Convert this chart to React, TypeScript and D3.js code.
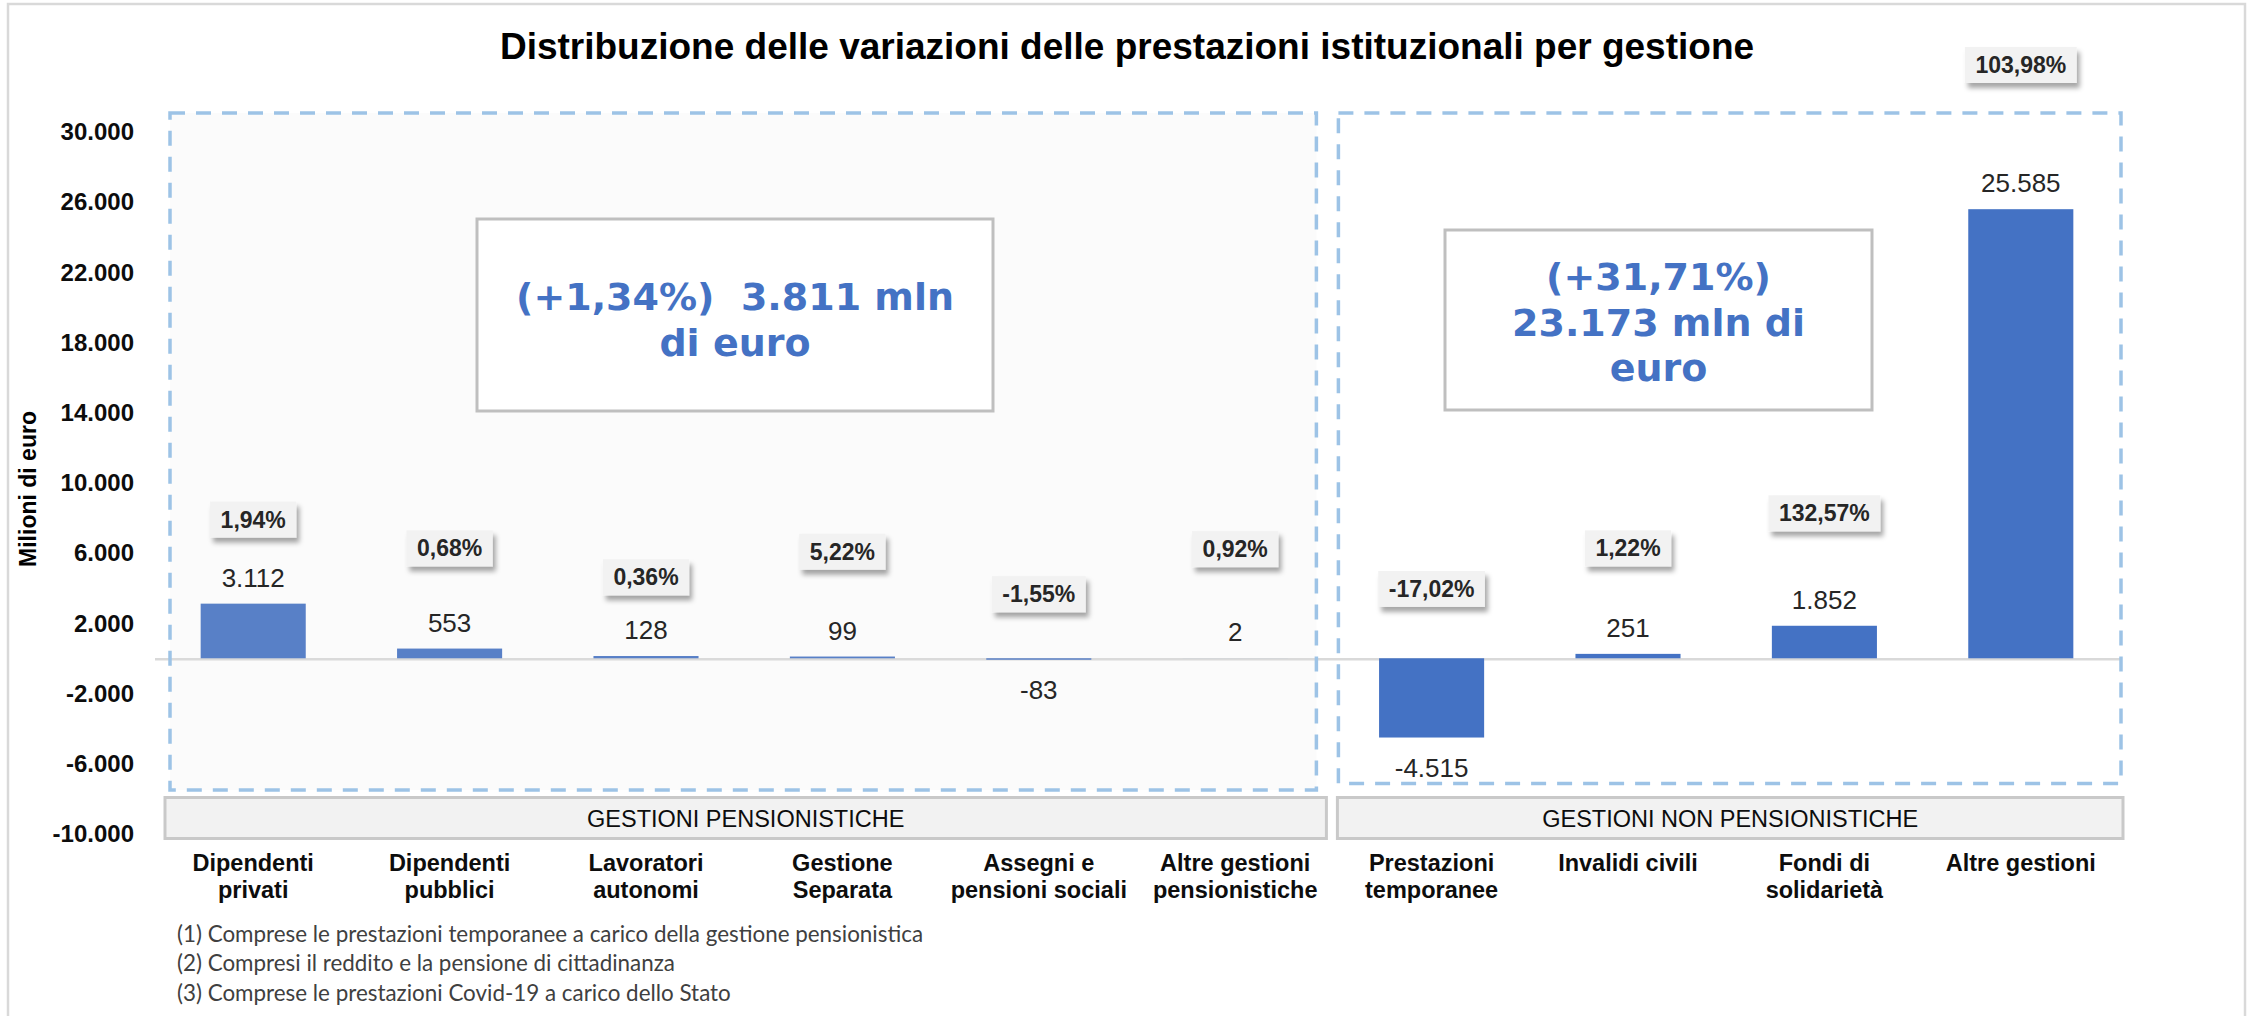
import * as d3 from 'd3';
import { useEffect, useRef } from 'react';

const categories = [
  'Dipendenti\nprivati',
  'Dipendenti\npubblici',
  'Lavoratori\nautonomi',
  'Gestione\nSeparata',
  'Assegni e\npensioni sociali',
  'Altre gestioni\npensionistiche',
  'Prestazioni\ntemporanee',
  'Invalidi civili',
  'Fondi di\nsolidarietà',
  'Altre gestioni',
];

// variazioni in milioni di euro
const values = [3112, 553, 128, 99, -83, 2, -4515, 251, 1852, 25585];

// variazioni percentuali e quota (in mln) a cui stanno le etichette
const percentages = [1.94, 0.68, 0.36, 5.22, -1.55, 0.92, -17.02, 1.22, 132.57, 103.98];
const percentLevels = [7900, 6260, 4610, 6070, 3650, 6220, 3950, 6260, 8260, 33800];

const yTicks = [-10000, -6000, -2000, 2000, 6000, 10000, 14000, 18000, 22000, 26000, 30000];

const groupLabels = ['GESTIONI PENSIONISTICHE', 'GESTIONI NON PENSIONISTICHE'];
const groupSpans = [
  [0, 5],
  [6, 9],
];

const summaryLines = [
  ['(+1,34%)  3.811 mln', 'di euro'],
  ['(+31,71%)', '23.173 mln di', 'euro'],
];

const footnotes = [
  '(1) Comprese le prestazioni temporanee a carico della gestione pensionistica',
  '(2) Compresi il reddito e la pensione di cittadinanza',
  '(3) Comprese le prestazioni Covid-19 a carico dello Stato',
];

const W = 2257;
const H = 1016;
const ARIAL = "'Liberation Sans', Arial, sans-serif";

const it = d3.formatLocale({
  decimal: ',',
  thousands: '.',
  grouping: [3],
  currency: ['', ' €'],
  minus: '-',
});
const fmtInt = it.format(',d');
const fmtPct = it.format('.2f');

const App = () => {
  const ref = useRef<SVGSVGElement>(null);

  useEffect(() => {
    document.body.style.margin = '0';
    const svg = d3.select(ref.current);
    svg.selectAll('*').remove();

    const x = d3
      .scaleBand()
      .domain(categories)
      .range([155, 2119])
      .paddingInner(0.465)
      .paddingOuter(0.2325);

    const y = d3.scaleLinear().domain([-10000, 30000]).range([833.8, 131.7]);

    const step = x.step();
    const cx = (i: number) => x(categories[i])! + x.bandwidth() / 2;
    const groupStart = (i: number) => cx(groupSpans[i][0]) - step / 2;
    const groupEnd = (i: number) => cx(groupSpans[i][1]) + step / 2;

    const defs = svg.append('defs');
    const shadow = defs
      .append('filter')
      .attr('id', 'shadow')
      .attr('x', '-20%')
      .attr('y', '-30%')
      .attr('width', '150%')
      .attr('height', '180%');
    shadow
      .append('feDropShadow')
      .attr('dx', 3)
      .attr('dy', 5)
      .attr('stdDeviation', 2.5)
      .attr('flood-color', '#000')
      .attr('flood-opacity', 0.35);

    svg.append('rect').attr('width', W).attr('height', H).attr('fill', '#fff');
    svg
      .append('rect')
      .attr('x', 8)
      .attr('y', 4)
      .attr('width', 2237)
      .attr('height', 1030)
      .attr('fill', 'none')
      .attr('stroke', '#d9d9d9')
      .attr('stroke-width', 2.5);

    // title
    svg
      .append('text')
      .attr('x', 1127)
      .attr('y', 46)
      .attr('text-anchor', 'middle')
      .attr('dominant-baseline', 'central')
      .style('font-family', ARIAL)
      .style('font-size', '37px')
      .style('font-weight', 'bold')
      .text('Distribuzione delle variazioni delle prestazioni istituzionali per gestione');

    // zero line
    svg
      .append('line')
      .attr('x1', 155)
      .attr('x2', 2121)
      .attr('y1', y(0) + 1)
      .attr('y2', y(0) + 1)
      .attr('stroke', '#d9d9d9')
      .attr('stroke-width', 2.5);

    // bars
    svg
      .selectAll('.bar')
      .data(values)
      .enter()
      .append('rect')
      .attr('class', 'bar')
      .attr('x', (d, i) => x(categories[i])!)
      .attr('y', (d) => Math.min(y(d), y(0)))
      .attr('width', x.bandwidth())
      .attr('height', (d) => Math.abs(y(d) - y(0)))
      .attr('fill', '#4472c4');

    // dashed group frames
    const frames = [
      { x0: groupStart(0) + 15, x1: groupEnd(0) - 17, top: 113, bottom: 790, fill: 'rgb(225,225,225)', op: 0.13 },
      { x0: groupStart(1) + 5, x1: groupEnd(1) + 2, top: 113, bottom: 783.5, fill: 'none', op: 0 },
    ];
    frames.forEach((f) => {
      svg
        .append('rect')
        .attr('x', f.x0)
        .attr('y', f.top)
        .attr('width', f.x1 - f.x0)
        .attr('height', f.bottom - f.top)
        .attr('fill', f.fill)
        .attr('fill-opacity', f.op)
        .attr('stroke', '#9dc3e6')
        .attr('stroke-width', 3.5)
        .attr('stroke-dasharray', '15 11');
    });

    // y axis
    svg
      .selectAll('.ytick')
      .data(yTicks)
      .enter()
      .append('text')
      .attr('class', 'ytick')
      .attr('x', 134)
      .attr('y', (d) => y(d))
      .attr('text-anchor', 'end')
      .attr('dominant-baseline', 'central')
      .style('font-family', ARIAL)
      .style('font-size', '24px')
      .style('font-weight', 'bold')
      .style('fill', '#0d0d0d')
      .text((d) => fmtInt(d));

    svg
      .append('text')
      .attr('transform', `translate(28, 489) rotate(-90)`)
      .attr('text-anchor', 'middle')
      .attr('dominant-baseline', 'central')
      .style('font-family', ARIAL)
      .style('font-size', '23px')
      .style('font-weight', 'bold')
      .text('Milioni di euro');

    // summary boxes
    const summaryBoxes = [
      { x0: 477, x1: 993, top: 219, bottom: 411, firstLine: 297 },
      { x0: 1445, x1: 1872, top: 230, bottom: 410, firstLine: 277 },
    ];
    summaryBoxes.forEach((b, i) => {
      svg
        .append('rect')
        .attr('x', b.x0)
        .attr('y', b.top)
        .attr('width', b.x1 - b.x0)
        .attr('height', b.bottom - b.top)
        .attr('fill', '#fff')
        .attr('stroke', '#bfbfbf')
        .attr('stroke-width', 3);
      svg
        .append('g')
        .selectAll('text')
        .data(summaryLines[i])
        .enter()
        .append('text')
        .attr('x', (b.x0 + b.x1) / 2)
        .attr('y', (d, k) => b.firstLine + k * 45.5)
        .attr('text-anchor', 'middle')
        .attr('dominant-baseline', 'central')
        .style('white-space', 'pre')
        .style('font-family', "'DejaVu Sans', Verdana, sans-serif")
        .style('font-size', '38px')
        .style('font-weight', 'bold')
        .style('fill', '#4472c4')
        .text((d) => d);
    });

    // value labels
    svg
      .selectAll('.val')
      .data(values)
      .enter()
      .append('text')
      .attr('class', 'val')
      .attr('x', (d, i) => cx(i))
      .attr('y', (d) => (d >= 0 ? y(d) - 26 : y(d) + 30))
      .attr('text-anchor', 'middle')
      .attr('dominant-baseline', 'central')
      .style('font-family', ARIAL)
      .style('font-size', '26px')
      .style('fill', '#262626')
      .text((d) => fmtInt(d));

    // percentage callouts
    const pct = svg
      .selectAll('.pct')
      .data(percentages)
      .enter()
      .append('g')
      .attr('class', 'pct')
      .attr('transform', (d, i) => `translate(${cx(i)}, ${y(percentLevels[i])})`);
    pct
      .append('text')
      .attr('text-anchor', 'middle')
      .attr('dominant-baseline', 'central')
      .style('font-family', ARIAL)
      .style('font-size', '23px')
      .style('font-weight', 'bold')
      .style('fill', '#262626')
      .text((d) => fmtPct(d) + '%');
    pct.each(function () {
      const g = d3.select(this);
      const w = (g.select('text').node() as SVGTextElement).getComputedTextLength() + 21;
      g.insert('rect', 'text')
        .attr('x', -w / 2)
        .attr('y', -18)
        .attr('width', w)
        .attr('height', 36)
        .attr('fill', '#f2f2f2')
        .attr('filter', 'url(#shadow)');
    });

    // group bands
    groupLabels.forEach((label, i) => {
      const x0 = groupStart(i) + (i === 0 ? 10 : 4);
      const x1 = groupEnd(i) - (i === groupLabels.length - 1 ? -4 : 7);
      svg
        .append('rect')
        .attr('x', x0)
        .attr('y', 797.5)
        .attr('width', x1 - x0)
        .attr('height', 41)
        .attr('fill', '#f2f2f2')
        .attr('stroke', '#c9c9c9')
        .attr('stroke-width', 3);
      svg
        .append('text')
        .attr('x', (x0 + x1) / 2)
        .attr('y', 819)
        .attr('text-anchor', 'middle')
        .attr('dominant-baseline', 'central')
        .style('font-family', ARIAL)
        .style('font-size', '23.5px')
        .style('fill', '#0d0d0d')
        .text(label);
    });

    // category labels
    const cat = svg
      .selectAll('.cat')
      .data(categories)
      .enter()
      .append('text')
      .attr('class', 'cat')
      .attr('text-anchor', 'middle')
      .attr('dominant-baseline', 'central')
      .style('font-family', ARIAL)
      .style('font-size', '23.5px')
      .style('font-weight', 'bold')
      .style('fill', '#0d0d0d');
    cat.each(function (d, i) {
      d3.select(this)
        .selectAll('tspan')
        .data(d.split('\n'))
        .enter()
        .append('tspan')
        .attr('x', cx(i))
        .attr('y', (l, k) => 863 + k * 27)
        .text((l) => l);
    });

    // footnotes
    svg
      .selectAll('.note')
      .data(footnotes)
      .enter()
      .append('text')
      .attr('class', 'note')
      .attr('x', 177)
      .attr('y', (d, i) => 933 + i * 29.5)
      .attr('dominant-baseline', 'central')
      .style('font-family', "Lato, 'Open Sans', sans-serif")
      .style('font-size', '22.4px')
      .style('fill', '#404040')
      .text((d) => d);
  }, []);

  return <svg ref={ref} width={W} height={H} style={{ display: 'block' }} />;
};

export default App;
